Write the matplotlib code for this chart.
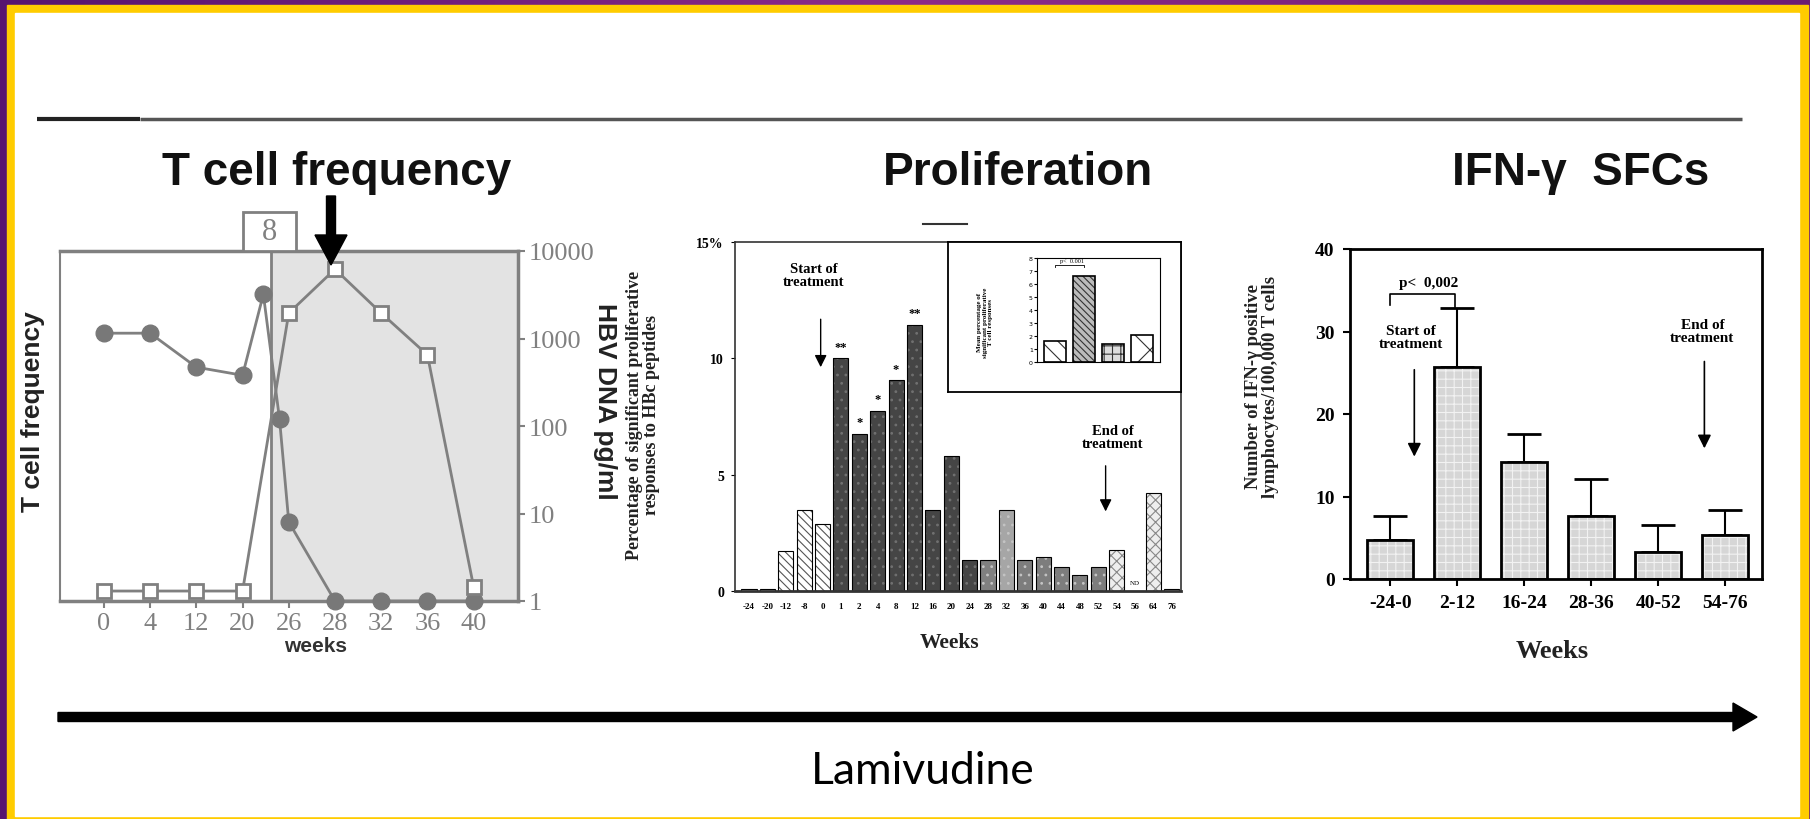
import numpy as np
import matplotlib
matplotlib.use("Agg")
import matplotlib.pyplot as plt
from matplotlib.patches import Rectangle, FancyArrow
from matplotlib.colors import LinearSegmentedColormap
from matplotlib.ticker import NullLocator

W, H = 1810, 820
SERIF = "Liberation Serif"
SANS = "Liberation Sans"
GREY = "#808080"

# --- T cell frequency panel (categorical week axis) ---
tcell_weeks = ["0", "4", "12", "20", "26", "28", "32", "36", "40"]
tcell_pos = [0, 1, 2, 3, 3.45, 3.8, 4, 5, 6, 7, 8]
tcell_freq = [1150, 1150, 470, 380, 3200, 120, 8, 1, 1, 1, 1]
hbv_pos = [0, 1, 2, 3, 4, 5, 6, 7, 8]
hbv_dna = [1.3, 1.3, 1.3, 1.3, 1950, 6200, 1950, 650, 1.45]
treat_start = 3.61

# --- Proliferation panel ---
prolif_weeks = ["-24", "-20", "-12", "-8", "0", "1", "2", "4", "8", "12", "16", "20",
                "24", "28", "32", "36", "40", "44", "48", "52", "54", "56", "64", "76"]
prolif_pct = [0.08, 0.08, 1.7, 3.5, 2.9, 10.0, 6.75, 7.75, 9.05, 11.45, 3.5, 5.8,
              1.35, 1.35, 3.5, 1.35, 1.45, 1.05, 0.7, 1.05, 1.75, 0.0, 4.2, 0.08]
prolif_sig = ["", "", "", "", "", "**", "*", "*", "*", "**", "", "",
              "", "", "", "", "", "", "", "", "", "", "", ""]
inset_pct = [1.6, 6.6, 1.4, 2.1]

# --- IFN-gamma SFC panel ---
ifn_weeks = ["-24-0", "2-12", "16-24", "28-36", "40-52", "54-76"]
ifn_sfc = [4.7, 25.7, 14.2, 7.6, 3.3, 5.3]
ifn_err = [2.9, 7.1, 3.4, 4.5, 3.2, 3.1]

# bar styles for the proliferation panel
prolif_face = (["white"] * 5 + ["#454545"] * 8 + ["#808080", "#a6a6a6"]
               + ["#7d7d7d"] * 5 + ["#eeeeee", "white", "#eeeeee", "white"])
prolif_hatch = (["", ""] + ["\\\\\\\\"] * 3 + [".."] * 8 + [".."] * 7
                + ["xxx", "", "xxx", ""])
prolif_hcol = (["#555555"] * 5 + ["#707070"] * 8 + ["#c4c4c4"] * 7
               + ["#888888"] * 4)

plt.rcParams["hatch.linewidth"] = 0.8
fig = plt.figure(figsize=(W / 100, H / 100), dpi=100)


def px_axes(x0, y0, x1, y1, **kw):
    return fig.add_axes([x0 / W, 1 - y1 / H, (x1 - x0) / W, (y1 - y0) / H], **kw)


def pixel_frame(ax):
    ax.set_xlim(0, W)
    ax.set_ylim(H, 0)
    ax.axis("off")


def bars(ax, x, h, width, faces, hatches, hcols, lw):
    for xi, hi, fc, ht, hc in zip(x, h, faces, hatches, hcols):
        ax.bar(xi, hi, width, color=fc, edgecolor=hc, hatch=ht, linewidth=0)
        ax.bar(xi, hi, width, fill=False, edgecolor="black", linewidth=lw)


# background: purple gradient, yellow frame, white slide
bg = px_axes(0, 0, W, H, zorder=-5)
pixel_frame(bg)
purple = LinearSegmentedColormap.from_list("p", ["#561470", "#8c2a88", "#6c1c74"])
bg.imshow(np.linspace(0, 1, 256)[None, :], extent=[0, W, H, 0], cmap=purple, aspect="auto")
bg.add_patch(Rectangle((7, 6), 1801, 820, color="#FFCC00"))
bg.add_patch(Rectangle((15, 14), 1784, 803, color="white"))
bg.plot([37, 140], [120, 120], color="#222222", lw=3, solid_capstyle="butt")
bg.plot([140, 1742], [120, 120], color="#555555", lw=2.5, solid_capstyle="butt")
bg.plot([923, 967], [225, 225], color="#333333", lw=1.5)

# ---------------- T cell frequency ----------------
ax1 = px_axes(60, 252, 518, 602)
ax1.axvspan(treat_start, 10, color="#e3e3e3", zorder=0)
ax1.axvline(treat_start, color=GREY, lw=2, zorder=1)
ax1.plot(tcell_pos, tcell_freq, "-o", color=GREY, mfc="#787878", mec="#787878", ms=12,
         lw=2, clip_on=False, zorder=3)
ax1.plot(hbv_pos, hbv_dna, "-s", color=GREY, mfc="white", mec=GREY, mew=2, ms=10,
         lw=2, clip_on=False, zorder=4)
ax1.set_yscale("log")
ax1.set_ylim(1, 1e4)
ax1.set_xlim(-0.95, 8.96)
ax1.yaxis.tick_right()
ax1.yaxis.set_minor_locator(NullLocator())
ax1.set_yticks([1, 10, 100, 1000, 10000], labels=["1", "10", "100", "1000", "10000"])
ax1.set_xticks(range(len(tcell_weeks)), labels=tcell_weeks)
ax1.tick_params(colors=GREY, labelsize=19, width=1.5, length=5, pad=3)
for lab in ax1.get_xticklabels() + ax1.get_yticklabels():
    lab.set_fontfamily(SERIF)
for s in ax1.spines.values():
    s.set_color(GREY)
    s.set_linewidth(2.5)
ax1.spines["left"].set_linewidth(1.5)

# ---------------- Proliferation ----------------
ax2 = px_axes(735, 243, 1181, 592)
xp = np.arange(len(prolif_pct))
bars(ax2, xp, prolif_pct, 0.82, prolif_face, prolif_hatch, prolif_hcol, 0.8)
for xi, hi, s in zip(xp, prolif_pct, prolif_sig):
    if s:
        ax2.text(xi, hi + 0.25, s, ha="center", va="bottom", fontsize=9,
                 fontfamily=SERIF, fontweight="bold")
ax2.text(21, 0.25, "ND", ha="center", va="bottom", fontsize=5, fontfamily=SERIF)
ax2.set_xlim(-0.76, 23.5)
ax2.set_ylim(0, 15)
ax2.set_yticks([0, 5, 10, 15], labels=["0", "5", "10", "15%"])
ax2.set_xticks(xp, labels=prolif_weeks)
ax2.tick_params(axis="y", labelsize=10, length=3, pad=5)
ax2.tick_params(axis="x", labelsize=6.5, length=0, pad=8)
for lab in ax2.get_xticklabels() + ax2.get_yticklabels():
    lab.set_fontfamily(SERIF)
    lab.set_fontweight("bold")
for s in ax2.spines.values():
    s.set_linewidth(1.2)
    s.set_color("#333333")
ax2.spines["bottom"].set_linewidth(2)
ax2.annotate("", xy=(3.9, 9.5), xytext=(3.9, 11.8),
             arrowprops=dict(arrowstyle="-|>", color="black", lw=1.0, mutation_scale=18))
ax2.text(3.5, 13.6, "Start of\ntreatment", ha="center", va="center", fontsize=10.5,
         fontfamily=SERIF, fontweight="bold", linespacing=1.0)
ax2.annotate("", xy=(19.4, 3.3), xytext=(19.4, 5.5),
             arrowprops=dict(arrowstyle="-|>", color="black", lw=1.0, mutation_scale=18))
ax2.text(19.8, 6.6, "End of\ntreatment", ha="center", va="center", fontsize=10.5,
         fontfamily=SERIF, fontweight="bold", linespacing=1.0)

# inset
frame = px_axes(948, 243, 1181, 393)
frame.set_xticks([])
frame.set_yticks([])
for s in frame.spines.values():
    s.set_linewidth(1.3)
ax_in = px_axes(1037, 259, 1160, 363)
bars(ax_in, range(4), inset_pct, 0.75, ["white", "#bbbbbb", "#dddddd", "white"],
     ["\\\\", "\\\\\\\\\\", "++", "x"], ["#333333"] * 4, 1.2)
ax_in.set_xlim(-0.6, 3.6)
ax_in.set_ylim(0, 8)
ax_in.set_xticks([])
ax_in.set_yticks(range(9))
ax_in.tick_params(labelsize=4.5, length=2, pad=1)
ax_in.plot([0, 0, 1, 1], [7.3, 7.5, 7.5, 7.3], color="black", lw=0.6)
ax_in.text(0.6, 7.6, "p<  0.001", fontsize=4.5, ha="center", va="bottom", fontfamily=SERIF)
frame.text(0.16, 0.47, "Mean percentage of\nsignificant proliferative\nT cell responses",
           transform=frame.transAxes, rotation=90, ha="center", va="center",
           fontsize=5, fontfamily=SERIF, fontweight="bold", linespacing=1.1)

# ---------------- IFN-gamma SFCs ----------------
ax3 = px_axes(1350, 250, 1762, 580)
xi3 = np.arange(len(ifn_sfc))
ax3.errorbar(xi3, ifn_sfc, yerr=[np.zeros(len(ifn_err)), ifn_err], fmt="none",
             ecolor="black", elinewidth=1.5, capsize=12, capthick=2, zorder=1)
bars(ax3, xi3, ifn_sfc, 0.68, ["#d6d6d6"] * 6, ["++"] * 6, ["#f2f2f2"] * 6, 2)
ax3.set_xlim(-0.6, 5.55)
ax3.set_ylim(0, 40)
ax3.set_yticks([0, 10, 20, 30, 40])
ax3.set_xticks(xi3, labels=ifn_weeks)
ax3.tick_params(labelsize=14, length=5, width=1.5, pad=6)
for lab in ax3.get_xticklabels() + ax3.get_yticklabels():
    lab.set_fontfamily(SERIF)
    lab.set_fontweight("bold")
for s in ax3.spines.values():
    s.set_linewidth(2)
ax3.plot([0, 0, 0.97, 0.97], [33.2, 34.5, 34.5, 33.0], color="black", lw=1.2)
ax3.text(0.58, 35.1, "p<  0,002", ha="center", va="bottom", fontsize=11,
         fontfamily=SERIF, fontweight="bold")
ax3.annotate("", xy=(0.36, 14.5), xytext=(0.36, 25.7),
             arrowprops=dict(arrowstyle="-|>", color="black", lw=1.2, mutation_scale=20))
ax3.text(0.31, 29.3, "Start of\ntreatment", ha="center", va="center", fontsize=11,
         fontfamily=SERIF, fontweight="bold", linespacing=1.0)
ax3.annotate("", xy=(4.69, 15.5), xytext=(4.69, 26.7),
             arrowprops=dict(arrowstyle="-|>", color="black", lw=1.2, mutation_scale=20))
ax3.text(4.66, 30.0, "End of\ntreatment", ha="center", va="center", fontsize=11,
         fontfamily=SERIF, fontweight="bold", linespacing=1.0)

# ---------------- overlay: titles, labels, arrows ----------------
ov = px_axes(0, 0, W, H, zorder=10)
pixel_frame(ov)
ov.patch.set_alpha(0)
for x, t in [(337, "T cell frequency"), (1018, "Proliferation"), (1581, "IFN-γ  SFCs")]:
    ov.text(x, 173, t, ha="center", va="center", fontsize=33, fontweight="bold",
            fontfamily=SANS, color="#111111")
ov.add_patch(Rectangle((243, 213), 53, 39, facecolor="white", edgecolor=GREY, lw=2))
ov.text(269.5, 233, "8", ha="center", va="center", fontsize=22, fontfamily=SERIF,
        color=GREY)
ov.add_patch(FancyArrow(331, 197, 0, 69, width=9, head_width=32, head_length=30,
                        length_includes_head=True, color="black"))
ov.text(33, 412, "T cell frequency", rotation=90, ha="center", va="center",
        fontsize=19, fontweight="bold", fontfamily=SANS, color="#222222")
ov.text(605, 401, "HBV DNA pg/ml", rotation=-90, ha="center", va="center",
        fontsize=19, fontweight="bold", fontfamily=SANS, color="#222222")
ov.text(316, 647, "weeks", ha="center", va="center", fontsize=15, fontweight="bold",
        fontfamily=SANS, color="#333333")
ov.text(643, 415, "Percentage of significant proliferative\nresponses to HBc peptides",
        rotation=90, ha="center", va="center", fontsize=13, fontweight="bold",
        fontfamily=SERIF, linespacing=1.05, color="#222222")
ov.text(949, 643, "Weeks", ha="center", va="center", fontsize=15.5, fontweight="bold",
        fontfamily=SERIF, color="#222222")
ov.text(1262, 387, "Number of IFN-γ positive\nlymphocytes/100,000 T cells",
        rotation=90, ha="center", va="center", fontsize=13.5, fontweight="bold",
        fontfamily=SERIF, linespacing=1.05, color="#222222")
ov.text(1552, 652, "Weeks", ha="center", va="center", fontsize=19, fontweight="bold",
        fontfamily=SERIF, color="#222222")
ov.add_patch(FancyArrow(58, 718, 1699, 0, width=9, head_width=28, head_length=24,
                        length_includes_head=True, color="black"))
ov.text(923, 772, "Lamivudine", ha="center", va="center", fontsize=32, fontfamily="Lato",
        color="black")

fig.savefig("out.png", dpi=100)
